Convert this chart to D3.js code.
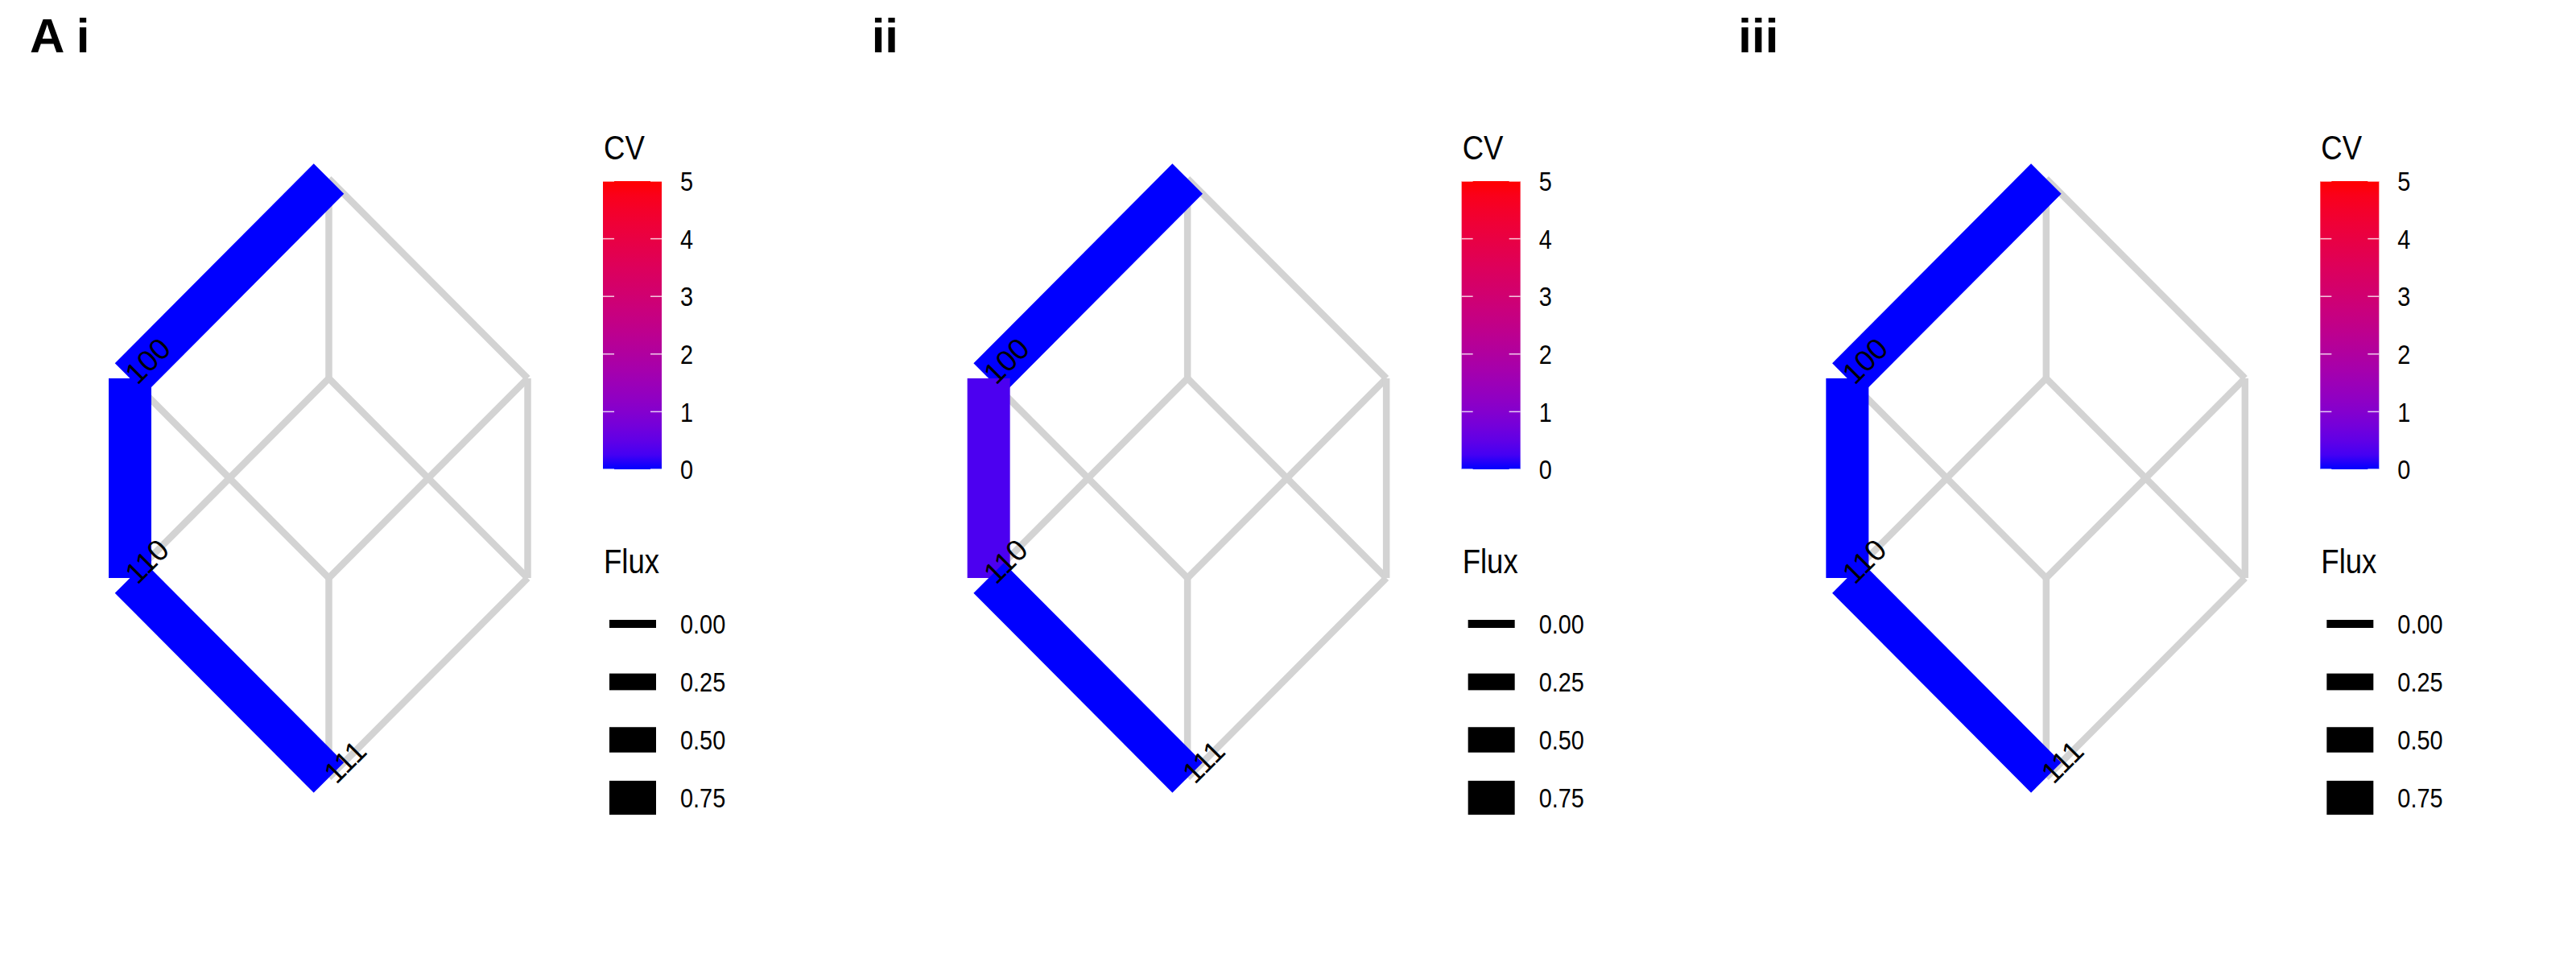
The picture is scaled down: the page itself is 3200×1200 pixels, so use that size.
<!DOCTYPE html>
<html>
<head>
<meta charset="utf-8">
<script src="https://cdn.jsdelivr.net/npm/d3@7"></script>
<style>
  html, body { margin: 0; padding: 0; background: #ffffff; }
  svg { display: block; }
</style>
</head>
<body>
<script>
// ---------------- data ----------------
const panelNames = ["A i", "ii", "iii"];
const nodeNames  = ["000", "100", "010", "001", "110", "101", "011", "111"];
const nodeLevel  = [0, 1, 1, 1, 2, 2, 2, 3];
const nodeColumn = [0, -1, 0, 1, -1, 0, 1, 0];
const pathNodes  = ["000", "100", "110", "111"];
const labelNodes = ["100", "110", "111"];
const fluxPanel1 = [1, 1, 1];
const fluxPanel2 = [1, 1, 1];
const fluxPanel3 = [1, 1, 1];
const cvPanel1   = [0, 0, 0];
const cvPanel2   = [0, 0.3, 0];
const cvPanel3   = [0, 0, 0];
const cvTicks    = [0, 1, 2, 3, 4, 5];
const fluxTicks  = [0, 0.25, 0.5, 0.75];

const fluxes = [fluxPanel1, fluxPanel2, fluxPanel3];
const cvs    = [cvPanel1, cvPanel2, cvPanel3];

// ---------------- layout ----------------
const W = 3200, H = 1200;
const panelW = W / 3;
const labelX = [37, 16, 26];
const svg = d3.select("body").append("svg").attr("width", W).attr("height", H);
svg.append("rect").attr("width", W).attr("height", H).attr("fill", "#ffffff");

const x = d3.scaleLinear().domain([-1, 1]).range([161.5, 655.5]);
const y = d3.scaleLinear().domain([0, 3]).range([222, 966]);
const lw = d3.scaleLinear().domain([0, 1]).range([10, 53]);
const color = d3.scaleLinear().domain([0, 5]).range(["#0000ff", "#ff0000"]).interpolate(d3.interpolateLab);
const cvY = d3.scaleLinear().domain([0, 5]).range([583, 225]);

const nodePos = {};
nodeNames.forEach((n, i) => { nodePos[n] = { x: x(nodeColumn[i]), y: y(nodeLevel[i]) }; });

// all hypercube edges (nodes differing in one bit)
const edges = [];
for (let i = 0; i < nodeNames.length; i++) {
  for (let j = i + 1; j < nodeNames.length; j++) {
    let d = 0;
    for (let k = 0; k < 3; k++) if (nodeNames[i][k] !== nodeNames[j][k]) d++;
    if (d === 1) edges.push([nodeNames[i], nodeNames[j]]);
  }
}

// gradient
const defs = svg.append("defs");
const grad = defs.append("linearGradient").attr("id", "cvgrad")
  .attr("x1", 0).attr("y1", 1).attr("x2", 0).attr("y2", 0);
d3.range(0, 21).forEach(i => {
  const v = i / 20 * 5;
  grad.append("stop").attr("offset", (i / 20 * 100) + "%").attr("stop-color", color(v));
});

const sans = "'Liberation Sans', Arial, sans-serif";
const SX = 0.85; // condensed legend text

function legendText(sel, tx, ty, size, txt, dy) {
  const t = sel.append("text")
    .attr("transform", `translate(${tx},${ty}) scale(${SX},1)`)
    .attr("font-family", sans).attr("font-size", size).attr("fill", "#000")
    .text(txt);
  if (dy) t.attr("dy", dy);
  return t;
}

panelNames.forEach((pname, p) => {
  const g = svg.append("g").attr("transform", `translate(${p * panelW},0)`);

  // panel label
  g.append("text")
    .attr("x", labelX[p]).attr("y", 65)
    .attr("font-family", sans).attr("font-weight", "bold").attr("font-size", 60)
    .attr("fill", "#000").text(pname);

  // grey edges
  g.append("g").selectAll("line").data(edges).join("line")
    .attr("x1", d => nodePos[d[0]].x).attr("y1", d => nodePos[d[0]].y)
    .attr("x2", d => nodePos[d[1]].x).attr("y2", d => nodePos[d[1]].y)
    .attr("stroke", "#d3d3d3").attr("stroke-width", 8.5).attr("stroke-linecap", "butt");

  // path edges
  const pathEdges = d3.range(pathNodes.length - 1).map(i => ({
    a: pathNodes[i], b: pathNodes[i + 1], flux: fluxes[p][i], cv: cvs[p][i]
  }));
  g.append("g").selectAll("line").data(pathEdges).join("line")
    .attr("x1", d => nodePos[d.a].x).attr("y1", d => nodePos[d.a].y)
    .attr("x2", d => nodePos[d.b].x).attr("y2", d => nodePos[d.b].y)
    .attr("stroke", d => color(d.cv)).attr("stroke-width", d => lw(d.flux))
    .attr("stroke-linecap", "butt");

  // node labels
  g.append("g").selectAll("text").data(labelNodes).join("text")
    .attr("transform", d => `translate(${nodePos[d].x},${nodePos[d].y}) rotate(-45)`)
    .attr("dy", "0.35em")
    .attr("font-family", sans).attr("font-size", 37).attr("fill", "#000")
    .text(d => d);

  // CV legend
  legendText(g, 750, 198, 43, "CV");
  g.append("rect").attr("x", 749).attr("y", cvY(5)).attr("width", 73).attr("height", cvY(0) - cvY(5))
    .attr("fill", "url(#cvgrad)");
  const tk = g.append("g");
  cvTicks.forEach(t => {
    tk.append("line").attr("x1", 749).attr("x2", 763).attr("y1", cvY(t)).attr("y2", cvY(t))
      .attr("stroke", "#ffffff").attr("stroke-opacity", 0.8).attr("stroke-width", 1.5);
    tk.append("line").attr("x1", 808).attr("x2", 822).attr("y1", cvY(t)).attr("y2", cvY(t))
      .attr("stroke", "#ffffff").attr("stroke-opacity", 0.8).attr("stroke-width", 1.5);
  });
  const cvLab = g.append("g");
  cvTicks.forEach(t => legendText(cvLab, 845, cvY(t), 34, String(t), "0.36em"));

  // Flux legend
  legendText(g, 750, 712, 43, "Flux");
  const fy = d3.scalePoint().domain(fluxTicks).range([775, 991]);
  g.append("g").selectAll("rect").data(fluxTicks).join("rect")
    .attr("x", 757).attr("width", 58)
    .attr("y", d => fy(d) - lw(d) / 2).attr("height", d => lw(d))
    .attr("fill", "#000");
  const fLab = g.append("g");
  fluxTicks.forEach(t => legendText(fLab, 845, fy(t), 34, d3.format(".2f")(t), "0.36em"));
});
</script>
</body>
</html>
